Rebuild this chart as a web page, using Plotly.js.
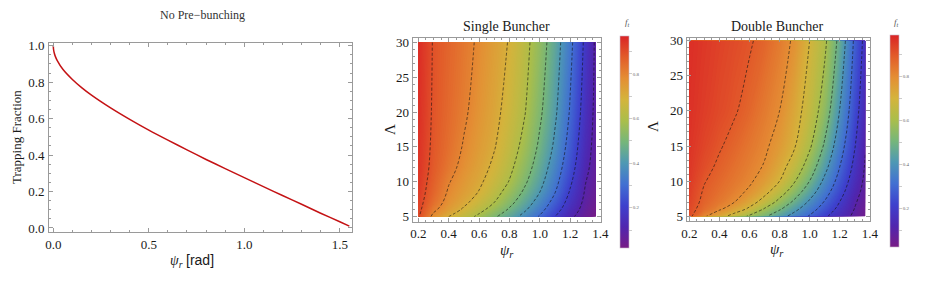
<!DOCTYPE html>
<html>
<head>
<meta charset="utf-8">
<script src="https://cdn.plot.ly/plotly-3.0.1.min.js"></script>
<style>html,body{margin:0;padding:0;background:#fff;}#chart{width:926px;height:282px;}</style>
</head>
<body>
<div id="chart"></div>
<script>
// ---- Left panel: trapping fraction without pre-bunching ----
const psiNoPre = [0, 0.001, 0.005, 0.01, 0.02, 0.05, 0.1, 0.15, 0.2, 0.3, 0.4, 0.5, 0.6, 0.7, 0.8, 0.9, 1.0, 1.1, 1.2, 1.3, 1.4, 1.5, 1.55];
const fracNoPre = [1.0, 0.982, 0.960, 0.943, 0.920, 0.871, 0.815, 0.769, 0.729, 0.659, 0.596, 0.537, 0.482, 0.429, 0.376, 0.326, 0.276, 0.227, 0.178, 0.130, 0.081, 0.034, 0.010];

// ---- Density panels: resonant phase (x) and Lambda (y) grid ----
const psiGrid = [0.2, 0.3, 0.4, 0.5, 0.6, 0.7, 0.8, 0.9, 1.0, 1.1, 1.2, 1.3, 1.37];
const lamGrid = [5, 6, 7, 8.5, 10, 12, 15, 20, 30];

const fSingle = [
  [0.910, 0.777, 0.700, 0.641, 0.580, 0.513, 0.443, 0.369, 0.291, 0.200, 0.117, 0.057, 0.020],
  [0.920, 0.817, 0.748, 0.687, 0.627, 0.561, 0.489, 0.413, 0.330, 0.237, 0.143, 0.071, 0.033],
  [0.927, 0.842, 0.772, 0.718, 0.660, 0.599, 0.525, 0.446, 0.361, 0.267, 0.165, 0.081, 0.042],
  [0.935, 0.860, 0.791, 0.744, 0.696, 0.634, 0.565, 0.485, 0.400, 0.303, 0.192, 0.093, 0.052],
  [0.940, 0.870, 0.805, 0.759, 0.715, 0.659, 0.596, 0.515, 0.427, 0.328, 0.214, 0.103, 0.059],
  [0.945, 0.880, 0.825, 0.777, 0.732, 0.683, 0.620, 0.543, 0.454, 0.354, 0.238, 0.120, 0.066],
  [0.950, 0.886, 0.840, 0.794, 0.750, 0.705, 0.644, 0.574, 0.484, 0.384, 0.264, 0.137, 0.072],
  [0.955, 0.891, 0.851, 0.812, 0.768, 0.723, 0.669, 0.605, 0.516, 0.415, 0.293, 0.157, 0.079],
  [0.960, 0.895, 0.860, 0.826, 0.788, 0.742, 0.694, 0.629, 0.548, 0.446, 0.324, 0.181, 0.085]
];
const fDouble = [
  [0.920, 0.811, 0.736, 0.662, 0.586, 0.514, 0.438, 0.364, 0.292, 0.215, 0.147, 0.082, 0.040],
  [0.930, 0.864, 0.811, 0.750, 0.682, 0.591, 0.510, 0.424, 0.341, 0.257, 0.174, 0.097, 0.050],
  [0.940, 0.880, 0.840, 0.800, 0.738, 0.663, 0.571, 0.480, 0.385, 0.293, 0.199, 0.109, 0.060],
  [0.948, 0.892, 0.859, 0.826, 0.788, 0.727, 0.647, 0.550, 0.446, 0.340, 0.235, 0.131, 0.073],
  [0.955, 0.904, 0.872, 0.842, 0.812, 0.763, 0.700, 0.606, 0.499, 0.380, 0.266, 0.152, 0.083],
  [0.960, 0.921, 0.887, 0.857, 0.827, 0.794, 0.733, 0.658, 0.554, 0.429, 0.300, 0.176, 0.093],
  [0.965, 0.936, 0.907, 0.877, 0.845, 0.814, 0.767, 0.706, 0.614, 0.488, 0.343, 0.205, 0.105],
  [0.970, 0.949, 0.928, 0.907, 0.875, 0.837, 0.800, 0.735, 0.661, 0.556, 0.398, 0.240, 0.135],
  [0.975, 0.958, 0.942, 0.925, 0.908, 0.878, 0.836, 0.787, 0.700, 0.619, 0.472, 0.283, 0.170]
];
const cbTickVals = [0.1, 0.2, 0.3, 0.4, 0.5, 0.6, 0.7, 0.8, 0.9];
const cbTickText = ['', '0.2', '', '0.4', '', '0.6', '', '0.8', ''];
const contourLevels = {start: 0.1, end: 0.9, size: 0.1};

const W = 926, H = 282;
const px = v => v / W;
const py = v => 1 - v / H;

const rainbow = [
  [0.0, 'rgb(120,28,134)'],
  [0.1, 'rgb(80,38,175)'],
  [0.2, 'rgb(62,65,205)'],
  [0.3, 'rgb(66,112,210)'],
  [0.4, 'rgb(78,152,180)'],
  [0.5, 'rgb(118,182,122)'],
  [0.6, 'rgb(170,190,75)'],
  [0.7, 'rgb(212,180,60)'],
  [0.8, 'rgb(228,142,52)'],
  [0.9, 'rgb(226,92,42)'],
  [1.0, 'rgb(218,36,38)']
];

const serif = '"Liberation Serif", "Times New Roman", serif';
const frameCol = '#9a9a9a';

function axisBase(extra) {
  return Object.assign({
    showgrid: false, zeroline: false, showline: true, linecolor: frameCol, linewidth: 1,
    mirror: 'ticks', ticks: 'inside', ticklen: 4, tickcolor: frameCol, tickwidth: 1,
    tickfont: {family: serif, size: 13, color: '#1a1a1a'}, fixedrange: true
  }, extra);
}

function fillTrace(z, xa, ya, zmin, zmax) {
  return {
    type: 'contour', x: psiGrid, y: lamGrid, z: z, xaxis: xa, yaxis: ya,
    colorscale: rainbow, autocontour: false,
    contours: {start: zmin, end: zmax, size: 0.005, coloring: 'fill', showlines: false},
    line: {width: 0}, showscale: false, hoverinfo: 'skip'
  };
}
function lineTrace(z, xa, ya) {
  return {
    type: 'contour', x: psiGrid, y: lamGrid, z: z, xaxis: xa, yaxis: ya,
    autocontour: false,
    contours: Object.assign({coloring: 'none', showlines: true}, contourLevels),
    line: {color: 'rgba(20,20,20,0.75)', width: 0.8, dash: '3px,2px', smoothing: 1},
    showscale: false, hoverinfo: 'skip'
  };
}
function barTrace(xa, ya, zmin, zmax, cbx, cby0, cby1) {
  return {
    type: 'heatmap', x: [-5], y: [-5], z: [[0.5]], xaxis: xa, yaxis: ya,
    colorscale: rainbow, zmin: zmin, zmax: zmax, showscale: true, hoverinfo: 'skip',
    colorbar: {
      x: px(cbx), xanchor: 'left', xpad: 0, ypad: 0,
      y: 1 - (cby0 + cby1) / 2 / H, yanchor: 'middle',
      len: (cby1 - cby0) / H, lenmode: 'fraction',
      thickness: 9, thicknessmode: 'pixels',
      outlinewidth: 0.6, outlinecolor: '#c8b8c8',
      tickmode: 'array', tickvals: cbTickVals, ticktext: cbTickText,
      ticks: 'outside', ticklen: 3, tickcolor: '#aaa', tickwidth: 0.6,
      tickfont: {family: serif, size: 5, color: '#666'}
    }
  };
}

const traces = [
  {
    type: 'scatter', mode: 'lines', x: psiNoPre, y: fracNoPre, xaxis: 'x', yaxis: 'y',
    line: {color: 'rgb(196,18,20)', width: 1.5, shape: 'spline', smoothing: 0.6},
    hoverinfo: 'skip', showlegend: false
  },
  fillTrace(fSingle, 'x2', 'y2', 0.02, 0.97),
  lineTrace(fSingle, 'x2', 'y2'),
  barTrace('x2', 'y2', 0.02, 0.97, 620, 36, 247.7),
  fillTrace(fDouble, 'x3', 'y3', 0.025, 0.99),
  lineTrace(fDouble, 'x3', 'y3'),
  barTrace('x3', 'y3', 0.025, 0.99, 890, 35, 247)
];

const ann = (text, x, y, size, extra) => Object.assign({
  text: text, x: px(x), y: py(y), xref: 'paper', yref: 'paper', showarrow: false,
  font: {family: serif, size: size, color: '#1a1a1a'}, xanchor: 'center', yanchor: 'middle'
}, extra || {});

const layout = {
  width: W, height: H,
  margin: {l: 0, r: 0, t: 0, b: 0},
  paper_bgcolor: '#fff', plot_bgcolor: '#fff',
  showlegend: false,
  font: {family: serif, size: 13, color: '#1a1a1a'},
  xaxis: axisBase({domain: [px(49), px(352)], range: [-0.0225, 1.564], anchor: 'y',
    tick0: 0, dtick: 0.5, tickformat: '.1f',
    minor: {ticks: 'inside', ticklen: 2, dtick: 0.1, tickcolor: frameCol}}),
  yaxis: axisBase({domain: [py(232), py(43)], range: [-0.022, 1.015], anchor: 'x',
    tick0: 0, dtick: 0.2, tickformat: '.1f', ticklabelstandoff: 1,
    minor: {ticks: 'inside', ticklen: 2, dtick: 0.05, tickcolor: frameCol}}),
  xaxis2: axisBase({domain: [px(412.7), px(600.7)], range: [0.163, 1.4015], anchor: 'y2',
    tick0: 0.2, dtick: 0.2, tickformat: '.1f',
    minor: {ticks: 'inside', ticklen: 2, dtick: 0.05, tickcolor: frameCol}}),
  yaxis2: axisBase({domain: [py(221.5), py(37.7)], range: [4.31, 30.66], anchor: 'x2',
    tick0: 0, dtick: 5,
    minor: {ticks: 'inside', ticklen: 2, dtick: 1, tickcolor: frameCol}}),
  xaxis3: axisBase({domain: [px(686.7), px(870)], range: [0.183, 1.4015], anchor: 'y3',
    tick0: 0.2, dtick: 0.2, tickformat: '.1f',
    minor: {ticks: 'inside', ticklen: 2, dtick: 0.05, tickcolor: frameCol}}),
  yaxis3: axisBase({domain: [py(221), py(37.7)], range: [4.32, 30.43], anchor: 'x3',
    tick0: 0, dtick: 5,
    minor: {ticks: 'inside', ticklen: 2, dtick: 1, tickcolor: frameCol}}),
  annotations: [
    ann('No Pre\u2212bunching', 202, 15, 12, {font: {family: serif, size: 12, color: '#333'}}),
    ann('Single Buncher', 507, 26, 14),
    ann('Double Buncher', 777, 26, 14),
    ann('Trapping Fraction', 16, 137, 13, {textangle: -90}),
    ann('<i>\u03c8<sub>r</sub></i> <span style="font-family:Liberation Sans">[rad]</span>', 192, 261, 14),
    ann('<i>\u03c8<sub>r</sub></i>', 507, 251, 15),
    ann('<i>\u03c8<sub>r</sub></i>', 777, 250, 15),
    ann('\u039b', 390, 130, 15, {textangle: -90}),
    ann('\u039b', 653, 127, 15, {textangle: -90}),
    ann('<i>f<sub>t</sub></i>', 627, 23, 9, {font: {family: serif, size: 9, color: '#555'}}),
    ann('<i>f<sub>t</sub></i>', 896, 22, 9, {font: {family: serif, size: 9, color: '#555'}})
  ]
};

Plotly.newPlot('chart', traces, layout, {staticPlot: true, displayModeBar: false});
</script>
</body>
</html>
